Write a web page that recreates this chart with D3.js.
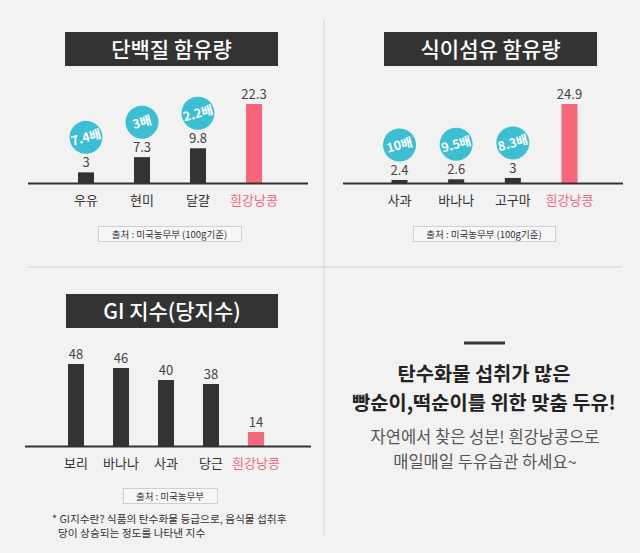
<!DOCTYPE html>
<html>
<head>
<meta charset="utf-8">
<script src="https://cdn.jsdelivr.net/npm/d3@7"></script>
<style>
    body { margin: 0; background: #f2f2f2; }
    svg { display: block; font-family: "Noto Sans CJK KR", "Noto Sans", sans-serif; }
</style>
</head>
<body>
<div id="chart"></div>
<script>
// 단백질 함유량
const proteinFoods = ["우유", "현미", "달걀", "흰강낭콩"];
const proteinValues = [3, 7.3, 9.8, 22.3];
const proteinRatios = ["7.4배", "3배", "2.2배", null];

// 식이섬유 함유량
const fiberFoods = ["사과", "바나나", "고구마", "흰강낭콩"];
const fiberValues = [2.4, 2.6, 3, 24.9];
const fiberRatios = ["10배", "9.5배", "8.3배", null];

// GI 지수
const giFoods = ["보리", "바나나", "사과", "당근", "흰강낭콩"];
const giValues = [48, 46, 40, 38, 14];

const width = 640, height = 553;
const BarColor = '#333333';
const HighlightColor = '#f7667a';
const BubbleColor = '#3dbfd3';

const svg = d3.select("#chart").append("svg")
    .attr("width", width)
    .attr("height", height)
    .attr("viewBox", [0, 0, width, height]);

svg.append("rect").attr("width", width).attr("height", height).attr("fill", "#f2f2f2");

// dividers
svg.append("line").attr("x1", 324).attr("x2", 324).attr("y1", 20).attr("y2", 535)
    .attr("stroke", "#dcdcdc").attr("stroke-width", 1.5);
svg.append("line").attr("x1", 27).attr("x2", 622).attr("y1", 267).attr("y2", 267)
    .attr("stroke", "#dcdcdc").attr("stroke-width", 1.5);

function drawPanel(opt) {
    const g = svg.append("g");

    // title box
    g.append("rect")
        .attr("x", opt.title.x).attr("y", opt.title.y)
        .attr("width", opt.title.w).attr("height", 34)
        .attr("fill", "#333");
    g.append("text")
        .attr("x", opt.title.x + opt.title.w / 2).attr("y", opt.title.y + 25)
        .attr("text-anchor", "middle")
        .attr("fill", "#fff")
        .style("font-size", "21px")
        .style("font-weight", 500)
        .text(opt.title.text);

    const x = d3.scalePoint().domain(opt.foods).range(opt.xRange);
    const y = d3.scaleLinear().domain(opt.yDomain).range([opt.baseline, opt.baseline - opt.barHeight]);
    const barW = 16;

    const isBean = d => d === "흰강낭콩";

    g.selectAll(".bar")
        .data(opt.foods)
        .join("rect")
        .attr("class", "bar")
        .attr("x", d => x(d) - barW / 2)
        .attr("width", barW)
        .attr("y", (d, i) => y(opt.values[i]))
        .attr("height", (d, i) => opt.baseline - y(opt.values[i]))
        .attr("fill", d => isBean(d) ? HighlightColor : BarColor);

    // baseline
    g.append("line")
        .attr("x1", opt.axisX[0]).attr("x2", opt.axisX[1])
        .attr("y1", opt.baseline + 0.5).attr("y2", opt.baseline + 0.5)
        .attr("stroke", "#333").attr("stroke-width", 2);

    // value labels
    g.selectAll(".val")
        .data(opt.foods)
        .join("text")
        .attr("class", "val")
        .attr("x", d => x(d))
        .attr("y", (d, i) => y(opt.values[i]) - 5)
        .attr("text-anchor", "middle")
        .attr("fill", "#444")
        .style("font-size", "13px")
        .text((d, i) => opt.values[i]);

    // category labels
    g.selectAll(".cat")
        .data(opt.foods)
        .join("text")
        .attr("class", "cat")
        .attr("x", d => x(d))
        .attr("y", opt.baseline + 22)
        .attr("text-anchor", "middle")
        .attr("fill", d => isBean(d) ? "#f0687d" : "#333")
        .style("font-size", "13px")
        .text(d => d);

    // ratio bubbles
    if (opt.ratios) {
        const bubbles = g.selectAll(".bubble")
            .data(opt.foods.filter((d, i) => opt.ratios[i]))
            .join("g")
            .attr("class", "bubble")
            .attr("transform", d => {
                const i = opt.foods.indexOf(d);
                return `translate(${x(d)},${y(opt.values[i]) - 35})`;
            });
        bubbles.append("circle").attr("r", 16.5).attr("fill", BubbleColor);
        bubbles.append("text")
            .attr("transform", "rotate(-15)")
            .attr("text-anchor", "middle")
            .attr("y", 4.5)
            .attr("fill", "#fff")
            .style("font-size", "12.5px")
            .style("font-weight", 700)
            .text(d => opt.ratios[opt.foods.indexOf(d)]);
    }

    // source box
    g.append("rect")
        .attr("x", opt.source.x + 0.5).attr("y", opt.source.y + 0.5)
        .attr("width", opt.source.w).attr("height", 15)
        .attr("fill", "#f7f7f7").attr("stroke", "#cfcfcf");
    g.append("text")
        .attr("x", opt.source.x + opt.source.w / 2).attr("y", opt.source.y + 11.5)
        .attr("text-anchor", "middle")
        .attr("fill", "#333")
        .style("font-size", "9.5px")
        .text(opt.source.text);
}

drawPanel({
    title: {x: 65, y: 32, w: 213, text: "단백질 함유량"},
    foods: proteinFoods, values: proteinValues, ratios: proteinRatios,
    xRange: [86, 254], yDomain: [0, 22.3], baseline: 183, barHeight: 79,
    axisX: [28, 308],
    source: {x: 98, y: 226, w: 143, text: "출처 : 미국농무부 (100g기준)"}
});

drawPanel({
    title: {x: 384, y: 32, w: 213, text: "식이섬유 함유량"},
    foods: fiberFoods, values: fiberValues, ratios: fiberRatios,
    xRange: [399.5, 569.5], yDomain: [1.5, 24.9], baseline: 183, barHeight: 79,
    axisX: [343, 623],
    source: {x: 413, y: 226, w: 142, text: "출처 : 미국농무부 (100g기준)"}
});

drawPanel({
    title: {x: 66, y: 294, w: 212, text: "GI 지수(당지수)"},
    foods: giFoods, values: giValues, ratios: null,
    xRange: [76, 256], yDomain: [7, 48], baseline: 446, barHeight: 82,
    axisX: [25, 311],
    source: {x: 123, y: 488, w: 94, text: "출처 : 미국농무부"}
});

// footnote
const footnote = ["* GI지수란? 식품의 탄수화물 등급으로, 음식물 섭취후", "당이 상승되는 정도를 나타낸 지수"];
svg.selectAll(".note")
    .data(footnote)
    .join("text")
    .attr("class", "note")
    .attr("x", (d, i) => i === 0 ? 52 : 58)
    .attr("y", (d, i) => 523 + i * 14)
    .attr("fill", "#333")
    .style("font-size", "10.7px")
    .text(d => d);

// message panel
svg.append("line").attr("x1", 464).attr("x2", 505).attr("y1", 343).attr("y2", 343)
    .attr("stroke", "#333").attr("stroke-width", 3);

const headline = ["탄수화물 섭취가 많은", "빵순이,떡순이를 위한 맞춤 두유!"];
svg.selectAll(".headline")
    .data(headline)
    .join("text")
    .attr("class", "headline")
    .attr("x", 484)
    .attr("y", (d, i) => 381 + i * 29)
    .attr("text-anchor", "middle")
    .attr("fill", "#222")
    .style("font-size", "19.8px")
    .style("font-weight", 700)
    .text(d => d);

const subline = ["자연에서 찾은 성분! 흰강낭콩으로", "매일매일 두유습관 하세요~"];
svg.selectAll(".subline")
    .data(subline)
    .join("text")
    .attr("class", "subline")
    .attr("x", 485)
    .attr("y", (d, i) => 443 + i * 25)
    .attr("text-anchor", "middle")
    .attr("fill", "#555")
    .style("font-size", "16.5px")
    .text(d => d);
</script>
</body>
</html>
